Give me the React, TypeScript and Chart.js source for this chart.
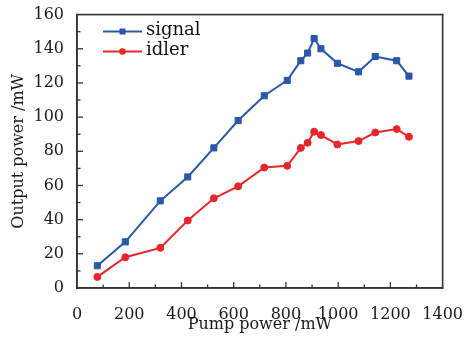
import React, { useEffect, useRef } from "react";
import { Chart, registerables } from "chart.js";

Chart.register(...registerables);

const pumpPower = [78, 185, 319, 424, 524, 617, 717, 805, 857, 883, 908, 934, 997, 1078, 1142, 1224, 1271];
const signalPower = [13, 27, 51, 65, 82, 98, 112.5, 121.5, 133, 137.5, 146, 140, 131.5, 126.5, 135.5, 133, 124];
const idlerPower = [6.5, 18, 23.5, 39.5, 52.5, 59.5, 70.5, 71.5, 82, 85, 91.5, 89.5, 84, 86, 91, 93, 88.5];
const xRange = [0, 1400];
const yRange = [0, 160];
const xStep = 200;
const yStep = 20;
const seriesNames = ["signal", "idler"];

const BLUE = "#2b57a7";
const RED = "#e5262a";
const AXIS = "#333333";
const FONT = "'DejaVu Serif', 'Liberation Serif', serif";

const frameLegend = {
  id: "frameLegend",
  afterDraw(chart: any) {
    const ctx = chart.ctx;
    const xs = chart.scales.x;
    const ys = chart.scales.y;
    const L = xs.getPixelForValue(xRange[0]);
    const R = xs.getPixelForValue(xRange[1]);
    const T = ys.getPixelForValue(yRange[1]);
    const B = ys.getPixelForValue(yRange[0]);
    ctx.save();
    ctx.setTransform(1, 0, 0, 1, 0, 0);
    ctx.globalAlpha = 1;
    ctx.globalCompositeOperation = "source-over";
    ctx.shadowColor = "transparent";
    ctx.filter = "none";

    // legend
    const x0 = 103;
    const x1 = 142;
    chart.data.datasets.forEach((d: any, i: number) => {
      const y = 31.5 + i * 20;
      ctx.fillStyle = d.borderColor;
      ctx.fillRect(x0, y - 1, x1 - x0, 2);
      const cx = (x0 + x1) / 2;
      if (d.pointStyle === "rect") {
        ctx.fillRect(cx - 3, y - 3, 6, 6);
      } else {
        ctx.beginPath();
        ctx.arc(cx, y, 3.3, 0, Math.PI * 2);
        ctx.fill();
      }
      ctx.fillStyle = "#111";
      ctx.font = `18px ${FONT}`;
      ctx.textBaseline = "middle";
      ctx.textAlign = "left";
      ctx.fillText(seriesNames[i], 146, y - 1);
    });

    // frame
    ctx.fillStyle = AXIS;
    const w = 1.6;
    ctx.fillRect(L - w / 2, T - w / 2, R - L + w, w);
    ctx.fillRect(L - w / 2, B - w / 2, R - L + w, w);
    ctx.fillRect(L - w / 2, T - w / 2, w, B - T + w);
    ctx.fillRect(R - w / 2, T - w / 2, w, B - T + w);

    // ticks (major and minor, inward)
    for (let v = xRange[0] + xStep / 2; v < xRange[1]; v += xStep / 2) {
      const px = xs.getPixelForValue(v);
      const len = v % xStep === 0 ? 6 : 3.5;
      ctx.fillRect(px - 0.65, B - len, 1.3, len);
    }
    for (let v = yRange[0] + yStep / 2; v < yRange[1]; v += yStep / 2) {
      const py = ys.getPixelForValue(v);
      const len = v % yStep === 0 ? 6 : 3.5;
      ctx.fillRect(L, py - 0.65, len, 1.3);
    }
    ctx.restore();
  },
};

export default function App() {
  const ref = useRef<HTMLCanvasElement | null>(null);
  useEffect(() => {
    if (!ref.current) return;
    const chart = new Chart(ref.current, {
      type: "line",
      data: {
        datasets: [
          {
            label: seriesNames[0],
            data: pumpPower.map((x, i) => ({ x, y: signalPower[i] })),
            borderColor: BLUE,
            backgroundColor: BLUE,
            borderWidth: 2,
            pointStyle: "rect",
            pointRadius: 4.3,
            pointHoverRadius: 4.3,
            pointBorderWidth: 1,
            tension: 0,
          },
          {
            label: seriesNames[1],
            data: pumpPower.map((x, i) => ({ x, y: idlerPower[i] })),
            borderColor: RED,
            backgroundColor: RED,
            borderWidth: 2,
            pointStyle: "circle",
            pointRadius: 3.5,
            pointHoverRadius: 3.5,
            pointBorderWidth: 1,
            tension: 0,
          },
        ],
      },
      options: {
        animation: false,
        responsive: false,
        devicePixelRatio: 1,
        layout: { padding: { left: 0, top: 9.5, right: 20, bottom: 0 } },
        plugins: { legend: { display: false }, tooltip: { enabled: false } },
        scales: {
          x: {
            type: "linear",
            position: "bottom",
            min: xRange[0],
            max: xRange[1],
            grid: { display: false },
            border: { display: true, color: AXIS, width: 1.5 },
            afterFit: (s: any) => {
              s.height = 52;
            },
            ticks: {
              stepSize: xStep,
              padding: 9,
              color: "#1a1a1a",
              font: { family: FONT, size: 16 },
              maxRotation: 0,
              autoSkip: false,
              callback: (v: any) => String(v),
            },
            title: {
              display: true,
              text: "Pump power /mW",
              color: "#1a1a1a",
              font: { family: FONT, size: 16 },
              padding: { top: 0, bottom: 6 },
            },
          },
          y: {
            type: "linear",
            position: "left",
            min: yRange[0],
            max: yRange[1],
            grid: { display: false },
            border: { display: true, color: AXIS, width: 1.5 },
            afterFit: (s: any) => {
              s.width = 77;
            },
            ticks: {
              stepSize: yStep,
              padding: 5,
              color: "#1a1a1a",
              font: { family: FONT, size: 16 },
              autoSkip: false,
              callback: (v: any) => String(v),
            },
            title: {
              display: true,
              text: "Output power /mW",
              color: "#1a1a1a",
              font: { family: FONT, size: 16 },
              padding: { top: 9, bottom: 0 },
            },
          },
        },
      },
      plugins: [frameLegend],
    });
    return () => chart.destroy();
  }, []);
  return (
    <div style={{ position: "fixed", left: 0, top: 0, width: 472, height: 340, background: "#fff" }}>
      <canvas ref={ref} width={472} height={340} style={{ width: 472, height: 340 }} />
    </div>
  );
}
